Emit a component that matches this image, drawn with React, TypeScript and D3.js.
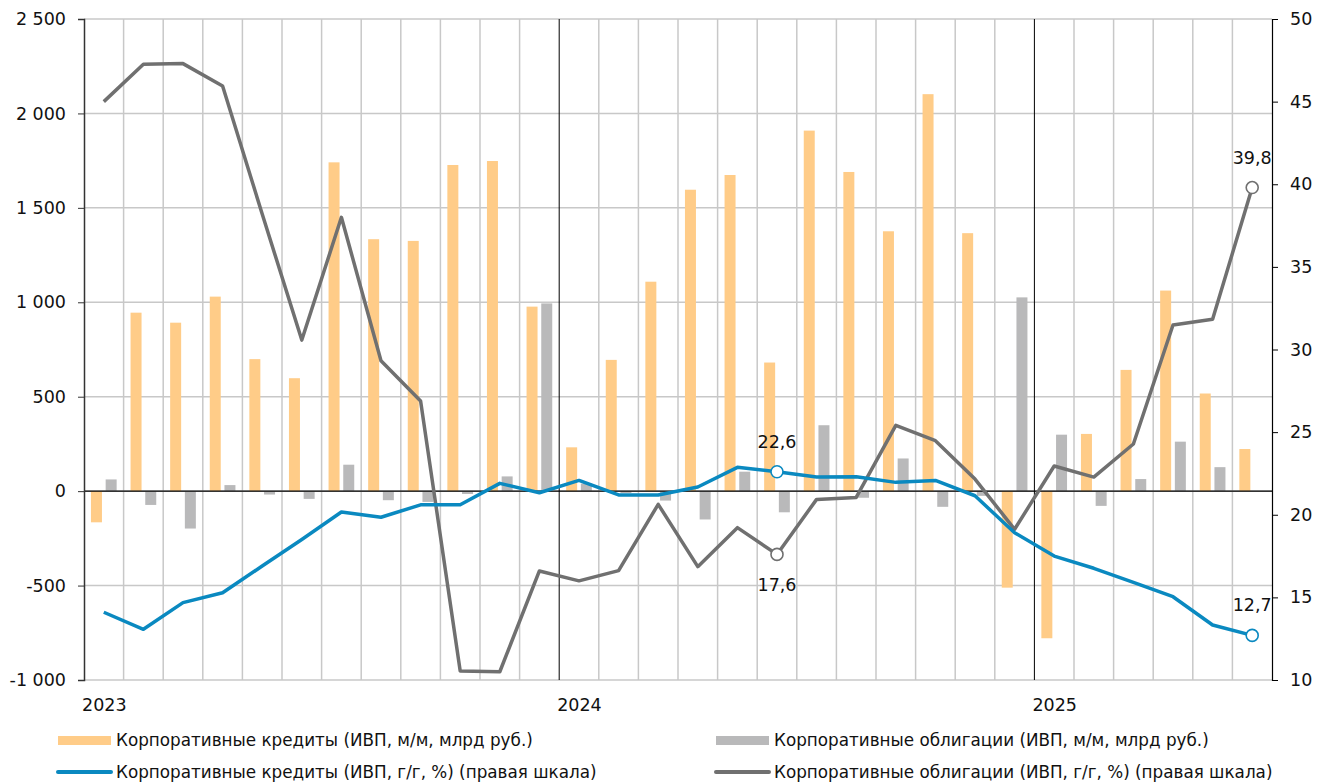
import * as d3 from "d3";
import React, {useEffect, useRef} from "react";

// Jan 2023 .. Jun 2025
const months: Date[] = d3.timeMonths(new Date(2023, 0, 1), new Date(2025, 6, 1));

// Корпоративные кредиты (ИВП, м/м, млрд руб.)
const loansMoM = [
  -165, 945, 892, 1030, 699, 598, 1741, 1334, 1325, 1727, 1748, 977,
  232, 695, 1109, 1596, 1674, 681, 1909, 1690, 1376, 2102, 1366, -511,
  -779, 303, 642, 1062, 517, 223,
];

// Корпоративные облигации (ИВП, м/м, млрд руб.)
const bondsMoM: (number | null)[] = [
  62, -73, -198, 32, -18, -41, 140, -48, -57, -15, 78, 994,
  40, -10, -50, -150, 103, -112, 349, -35, 173, -83, -25, 1026,
  299, -78, 64, 262, 127, null,
];

// Корпоративные кредиты (ИВП, г/г, %)
const loansYoY = [
  14.1, 13.07, 14.68, 15.28, 16.9, 18.5, 20.17, 19.85, 20.6, 20.6, 21.9, 21.33,
  22.08, 21.2, 21.2, 21.68, 22.87, 22.6, 22.28, 22.3, 21.96, 22.08, 21.15, 18.91,
  17.5, 16.76, 15.91, 15.04, 13.33, 12.7,
];

// Корпоративные облигации (ИВП, г/г, %)
const bondsYoY = [
  45.0, 47.26, 47.3, 45.95, 38.2, 30.57, 38.0, 29.32, 26.88, 10.54, 10.5, 16.6,
  16.0, 16.62, 20.63, 16.86, 19.22, 17.6, 20.93, 21.05, 25.41, 24.48, 22.16, 19.12,
  22.95, 22.28, 24.28, 31.48, 31.83, 39.8,
];

const leftTicks = [-1000, -500, 0, 500, 1000, 1500, 2000, 2500];
const rightTicks = [10, 15, 20, 25, 30, 35, 40, 45, 50];

// labelled points
const callouts: {i: number, series: "loans" | "bonds", above: boolean}[] = [
  {i: 17, series: "loans", above: true},
  {i: 17, series: "bonds", above: false},
  {i: 29, series: "bonds", above: true},
  {i: 29, series: "loans", above: true},
];

const legendLabels = [
  "Корпоративные кредиты (ИВП, м/м, млрд руб.)",
  "Корпоративные облигации (ИВП, м/м, млрд руб.)",
  "Корпоративные кредиты (ИВП, г/г, %) (правая шкала)",
  "Корпоративные облигации (ИВП, г/г, %) (правая шкала)",
];

const ORANGE = "#ffcc88";
const GRAY_BAR = "#b9b9ba";
const BLUE = "#0a89c0";
const GRAY_LINE = "#707070";
const GRID = "#c8c8c8";
const FONT = "'DejaVu Sans', sans-serif";

const ru = d3.formatLocale({decimal: ",", thousands: " ", grouping: [3], currency: ["", ""], minus: "-"});
const fmtInt = ru.format(",d");
const fmt1 = ru.format(".1f");

const Chart: React.FC = () => {
  const ref = useRef<SVGSVGElement | null>(null);

  useEffect(() => {
    const svg = d3.select(ref.current);
    svg.selectAll("*").remove();

    const width = 1328;
    const height = 782;
    const margin = {top: 19, right: 56, bottom: 102, left: 84};

    svg.attr("width", width).attr("height", height);

    const x = d3.scaleBand<number>()
      .domain(months.map((_, i) => i))
      .range([margin.left, width - margin.right])
      .padding(0);

    const inner = d3.scaleBand<string>()
      .domain(["loans", "bonds"])
      .range([0, x.bandwidth()])
      .paddingInner(0.252)
      .paddingOuter(0.473);

    const yL = d3.scaleLinear().domain([-1000, 2500]).range([height - margin.bottom, margin.top]);
    const yR = d3.scaleLinear().domain([10, 50]).range([height - margin.bottom, margin.top]);

    const x0 = margin.left;
    const x1 = width - margin.right;

    // horizontal grid
    svg.append("g")
      .selectAll("line")
      .data(leftTicks)
      .enter()
      .append("line")
      .attr("x1", x0)
      .attr("x2", x1)
      .attr("y1", (d) => yL(d))
      .attr("y2", (d) => yL(d))
      .attr("stroke", GRID)
      .attr("stroke-width", 1.5);

    // vertical grid at month boundaries, black at year starts
    svg.append("g")
      .selectAll("line")
      .data(months.map((_, i) => i).filter((i) => i > 0))
      .enter()
      .append("line")
      .attr("x1", (i) => x(i)!)
      .attr("x2", (i) => x(i)!)
      .attr("y1", yL(2500))
      .attr("y2", yL(-1000))
      .attr("stroke", (i) => (months[i].getMonth() === 0 ? "#000" : GRID))
      .attr("stroke-width", (i) => (months[i].getMonth() === 0 ? 1 : 1.5));

    // bars
    svg.append("g")
      .selectAll("rect")
      .data(loansMoM)
      .enter()
      .append("rect")
      .attr("x", (_, i) => x(i)! + inner("loans")!)
      .attr("width", inner.bandwidth())
      .attr("y", (d) => yL(Math.max(0, d)))
      .attr("height", (d) => Math.abs(yL(d) - yL(0)))
      .attr("fill", ORANGE);

    const bondBars = bondsMoM
      .map((v, i) => ({v, i}))
      .filter((d) => d.v !== null) as {v: number, i: number}[];
    svg.append("g")
      .selectAll("rect")
      .data(bondBars)
      .enter()
      .append("rect")
      .attr("x", (d) => x(d.i)! + inner("bonds")!)
      .attr("width", inner.bandwidth())
      .attr("y", (d) => yL(Math.max(0, d.v)))
      .attr("height", (d) => Math.abs(yL(d.v) - yL(0)))
      .attr("fill", GRAY_BAR);

    // zero line
    svg.append("line")
      .attr("x1", x0)
      .attr("x2", x1)
      .attr("y1", yL(0))
      .attr("y2", yL(0))
      .attr("stroke", "#000")
      .attr("stroke-width", 1.2);

    // lines
    const cx = (i: number) => x(i)! + x.bandwidth() / 2;
    const line = d3.line<number>().x((_, i) => cx(i)).y((d) => yR(d));

    svg.append("path")
      .datum(bondsYoY)
      .attr("d", line)
      .attr("fill", "none")
      .attr("stroke", GRAY_LINE)
      .attr("stroke-width", 3.5)
      .attr("stroke-linejoin", "round");

    svg.append("path")
      .datum(loansYoY)
      .attr("d", line)
      .attr("fill", "none")
      .attr("stroke", BLUE)
      .attr("stroke-width", 3.5)
      .attr("stroke-linejoin", "round");

    // axes
    const axL = svg.append("g")
      .attr("transform", `translate(${x0}, 0)`)
      .style("font-family", FONT)
      .style("font-size", "17.5px")
      .call(d3.axisLeft(yL).tickValues(leftTicks).tickSize(6).tickPadding(12).tickFormat((d) => fmtInt(d as number)));
    axL.select(".domain").attr("stroke", "#333").attr("stroke-width", 1.5);
    axL.selectAll(".tick line").attr("stroke", "#333");
    axL.selectAll(".tick text").attr("fill", "#111");

    const axR = svg.append("g")
      .attr("transform", `translate(${x1}, 0)`)
      .style("font-family", FONT)
      .style("font-size", "17.5px")
      .call(d3.axisRight(yR).tickValues(rightTicks).tickSize(6).tickPadding(12));
    axR.select(".domain").attr("stroke", "#000").attr("stroke-width", 1.2);
    axR.selectAll(".tick line").attr("stroke", "#000");
    axR.selectAll(".tick text").attr("fill", "#111");

    // year labels
    svg.append("g")
      .selectAll("text")
      .data(months.map((d, i) => ({d, i})).filter((o) => o.d.getMonth() === 0))
      .enter()
      .append("text")
      .attr("x", (o) => x(o.i)! - 2)
      .attr("y", 711)
      .style("font-family", FONT)
      .style("font-size", "17.5px")
      .attr("fill", "#111")
      .text((o) => String(o.d.getFullYear()));

    // callouts
    callouts.forEach((c) => {
      const data = c.series === "loans" ? loansYoY : bondsYoY;
      const color = c.series === "loans" ? BLUE : GRAY_LINE;
      const px = cx(c.i);
      const py = yR(data[c.i]);
      svg.append("circle")
        .attr("cx", px)
        .attr("cy", py)
        .attr("r", 6)
        .attr("fill", "#fff")
        .attr("stroke", color)
        .attr("stroke-width", 1.6);
      svg.append("text")
        .attr("x", px)
        .attr("y", c.above ? py - 24 : py + 37)
        .attr("text-anchor", "middle")
        .style("font-family", FONT)
        .style("font-size", "17.5px")
        .attr("fill", "#111")
        .text(fmt1(data[c.i]));
    });

    // legend
    const legend = [
      {label: legendLabels[0], color: ORANGE, kind: "rect", lx: 58, ly: 740},
      {label: legendLabels[1], color: GRAY_BAR, kind: "rect", lx: 716, ly: 740},
      {label: legendLabels[2], color: BLUE, kind: "line", lx: 58, ly: 772},
      {label: legendLabels[3], color: GRAY_LINE, kind: "line", lx: 716, ly: 772},
    ];
    const lg = svg.append("g");
    legend.forEach((l) => {
      if (l.kind === "rect") {
        lg.append("rect")
          .attr("x", l.lx)
          .attr("y", l.ly - 4)
          .attr("width", 53)
          .attr("height", 9)
          .attr("fill", l.color);
      } else {
        lg.append("line")
          .attr("x1", l.lx)
          .attr("x2", l.lx + 53)
          .attr("y1", l.ly)
          .attr("y2", l.ly)
          .attr("stroke", l.color)
          .attr("stroke-width", 4)
          .attr("stroke-linecap", "round");
      }
      lg.append("text")
        .attr("x", l.lx + 58)
        .attr("y", l.ly + 6)
        .style("font-family", FONT)
        .style("font-size", "16.8px")
        .attr("fill", "#111")
        .text(l.label);
    });

    return () => {
      svg.selectAll("*").remove();
    };
  }, []);

  return <svg ref={ref} style={{display: "block"}} />;
};

export default function App() {
  return (
    <div style={{position: "absolute", left: 0, top: 0, background: "#fff"}}>
      <Chart />
    </div>
  );
}
